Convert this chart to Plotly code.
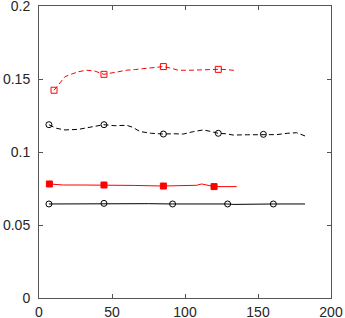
import plotly.graph_objects as go

# ---- data ----
rd_x = [10.3, 14, 17.8, 22.4, 27, 32.6, 38, 44.5, 52, 60, 66, 72.6, 79, 85.2, 90, 95.4, 104, 112.5, 118, 122.8, 128, 135.4]
rd_y = [0.1423, 0.147, 0.1516, 0.1534, 0.155, 0.156, 0.1555, 0.1532, 0.1545, 0.156, 0.1565, 0.1573, 0.158, 0.1585, 0.1575, 0.156, 0.156, 0.156, 0.1565, 0.1566, 0.1565, 0.1557]
rd_mx = [10.3, 44.5, 85.2, 122.8]
rd_my = [0.1423, 0.1532, 0.1585, 0.1566]

kd_x = [6.8, 12.1, 17.8, 27, 37.2, 44.5, 52, 60, 64, 69.2, 77, 85.2, 92, 98.9, 106, 112.5, 118, 122.8, 128, 133, 143, 153.7, 162.8, 170, 176.5, 182.2]
kd_y = [0.1187, 0.1162, 0.1151, 0.1155, 0.1174, 0.1187, 0.118, 0.1183, 0.117, 0.114, 0.1128, 0.1123, 0.1125, 0.1123, 0.114, 0.1151, 0.114, 0.1128, 0.1125, 0.1116, 0.1118, 0.1121, 0.1119, 0.1128, 0.1132, 0.111]
kd_mx = [6.8, 44.5, 85.2, 122.8, 153.7]
kd_my = [0.1187, 0.1187, 0.1123, 0.1128, 0.1121]

rs_x = [7.1, 16.7, 30, 44.5, 65, 85.2, 100, 108, 111.4, 114.8, 119.9, 128, 135.4]
rs_y = [0.0781, 0.0774, 0.0774, 0.0774, 0.0771, 0.0767, 0.0770, 0.0772, 0.0781, 0.0772, 0.0763, 0.0763, 0.0763]
rs_mx = [7.1, 44.5, 85.2, 119.9]
rs_my = [0.0781, 0.0774, 0.0767, 0.0763]

ks_x = [6.8, 20, 44.5, 60, 75, 91.5, 110, 129.2, 133, 145, 160.5, 182.2]
ks_y = [0.0644, 0.0645, 0.0648, 0.0645, 0.0646, 0.0644, 0.0645, 0.0644, 0.0641, 0.0643, 0.0644, 0.0644]
ks_mx = [6.8, 44.5, 91.5, 129.2, 160.5]
ks_my = [0.0644, 0.0648, 0.0644, 0.0644, 0.0644]

x_ticks = [0, 50, 100, 150, 200]
y_ticks = [0, 0.05, 0.1, 0.15, 0.2]
y_tick_text = ["0", "0.05", "0.1", "0.15", "0.2"]

RED = "rgb(255,0,0)"
BLK = "rgb(0,0,0)"

fig = go.Figure()

def add(lx, ly, mx, my, color, dash, symbol):
    fig.add_trace(go.Scatter(x=lx, y=ly, mode="lines",
                             line=dict(color=color, width=1, dash=dash),
                             showlegend=False, hoverinfo="skip"))
    fig.add_trace(go.Scatter(x=mx, y=my, mode="markers",
                             marker=dict(symbol=symbol, size=6, color=color,
                                         line=dict(color=color, width=1)),
                             showlegend=False, hoverinfo="skip"))

add(rd_x, rd_y, rd_mx, rd_my, RED, "5px,3px", "square-open")
add(kd_x, kd_y, kd_mx, kd_my, BLK, "5px,3px", "circle-open")
add(rs_x, rs_y, rs_mx, rs_my, RED, "solid", "square")
add(ks_x, ks_y, ks_mx, ks_my, BLK, "solid", "circle-open")

axis_common = dict(showline=True, linecolor="#555", linewidth=1, mirror="ticks",
                   ticks="inside", ticklen=4, tickcolor="#555", showgrid=False,
                   zeroline=False, automargin=False, ticklabeloverflow="allow",
                   tickfont=dict(family="Liberation Sans, Arial", size=14, color="#262626"))

fig.update_layout(
    width=345, height=318,
    margin=dict(l=39, r=14, t=6, b=20),
    paper_bgcolor="white", plot_bgcolor="white",
    xaxis=dict(range=[0, 200], tickvals=x_ticks, ticklabelstandoff=1, **axis_common),
    yaxis=dict(range=[0, 0.2], tickvals=y_ticks, ticktext=y_tick_text, ticklabelstandoff=5, **axis_common),
)

fig.write_html("out.html", config={"displayModeBar": False},
               post_script="document.body.style.margin='0';document.body.style.overflow='hidden';")
